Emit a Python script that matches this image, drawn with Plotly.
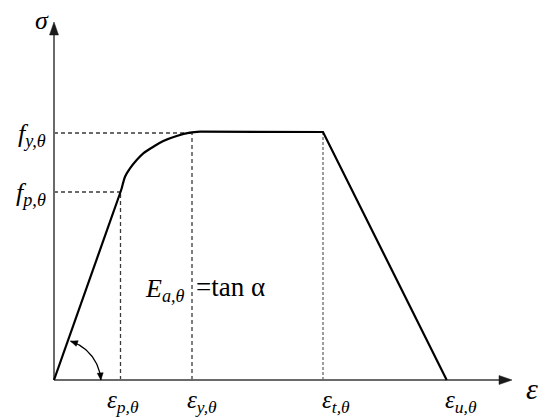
import numpy as np
import plotly.graph_objects as go

# ---- data (arbitrary units) ----
strain_curve = [0.0, 0.665, 0.677, 0.71, 0.76, 0.827, 0.893, 0.993, 1.093, 1.227, 1.36, 1.46, 2.69, 3.927]
stress_curve = [0.0, 1.88, 1.917, 2.033, 2.117, 2.20, 2.267, 2.333, 2.39, 2.44, 2.473, 2.483, 2.48, 0.0]

eps_keys = [0.665, 1.38, 2.69, 3.927]          # ε_p, ε_y, ε_t, ε_u
eps_labels = ["<i>ε</i><sub><i>p,θ</i></sub>", "<i>ε</i><sub><i>y,θ</i></sub>",
              "<i>ε</i><sub><i>t,θ</i></sub>", "<i>ε</i><sub><i>u,θ</i></sub>"]
f_keys = [1.88, 2.47]                             # f_p, f_y
f_labels = ["<i>f</i><sub><i>p,θ</i></sub>", "<i>f</i><sub><i>y,θ</i></sub>"]
eps_axis_end = 4.58
sigma_axis_end = 3.58

FONT = "Liberation Serif"
AX_COL = "#6a6a6a"
DASH_COL = "#3a3a3a"

fig = go.Figure()

# dashed guide lines
gx, gy = [], []
for xe, fv in [(eps_keys[0], f_keys[0]), (eps_keys[1], f_keys[1])]:
    gx += [0, xe, None]
    gy += [fv, fv, None]
for xe, fv in [(eps_keys[0], f_keys[0]), (eps_keys[1], f_keys[1])]:
    gx += [xe, xe, None]
    gy += [0, fv, None]
fig.add_trace(go.Scatter(x=gx, y=gy, mode="lines",
                         line=dict(color=DASH_COL, width=1.3, dash="4px,3px"),
                         hoverinfo="skip", showlegend=False))
fig.add_trace(go.Scatter(x=[eps_keys[2], eps_keys[2]], y=[0, f_keys[1]], mode="lines",
                         line=dict(color=DASH_COL, width=1.0, dash="3px,2px"),
                         hoverinfo="skip", showlegend=False))

# axes lines
fig.add_trace(go.Scatter(x=[0, 0, None, 0, eps_axis_end - 0.08], y=[sigma_axis_end - 0.08, 0, None, 0, 0],
                         mode="lines", line=dict(color=AX_COL, width=2),
                         hoverinfo="skip", showlegend=False))

# main stress-strain curve: straight elastic part, smooth transition, plateau + descending branch
fig.add_trace(go.Scatter(x=strain_curve[:2], y=stress_curve[:2], mode="lines",
                         line=dict(color="black", width=2.2), hoverinfo="skip", showlegend=False))
fig.add_trace(go.Scatter(x=strain_curve[1:12], y=stress_curve[1:12], mode="lines",
                         line=dict(color="black", width=2.2, shape="spline", smoothing=1.0),
                         hoverinfo="skip", showlegend=False))
fig.add_trace(go.Scatter(x=strain_curve[11:], y=stress_curve[11:], mode="lines",
                         line=dict(color="black", width=2.2), hoverinfo="skip", showlegend=False))

# angle arc
cx, cy, r = 0.03, -0.03, 0.44
th = np.radians(np.linspace(72, 4, 60))
ax_ = cx + r * np.cos(th)
ay_ = cy + r * np.sin(th)
fig.add_trace(go.Scatter(x=ax_, y=ay_, mode="lines",
                         line=dict(color="black", width=1.3),
                         hoverinfo="skip", showlegend=False))


def arrowhead(tipx, tipy, dx, dy, length, halfw, color):
    n = np.hypot(dx, dy)
    dx, dy = dx / n, dy / n
    bx, by = -length * dx, -length * dy
    px, py = -dy, dx
    path = (f"M0,0 L{bx + halfw * px:.2f},{by + halfw * py:.2f} "
            f"L{bx - halfw * px:.2f},{by - halfw * py:.2f} Z")
    return dict(type="path", xref="x", yref="y", xsizemode="pixel", ysizemode="pixel",
                xanchor=tipx, yanchor=tipy, path=path,
                fillcolor=color, line=dict(color=color, width=0.5))


shapes = [
    arrowhead(0, sigma_axis_end, 0, 1, 13, 4.5, "#1a1a1a"),
    arrowhead(eps_axis_end, 0, 1, 0, 13, 4.5, "#1a1a1a"),
    arrowhead(ax_[0], ay_[0], ax_[0] - ax_[3], ay_[0] - ay_[3], 7, 3, "black"),
    arrowhead(ax_[-1], ay_[-1], ax_[-1] - ax_[-4], ay_[-1] - ay_[-4], 7, 3, "black"),
]

ann = []
# axis titles
ann.append(dict(x=-0.12, y=3.60, text="<i>σ</i>", showarrow=False,
                font=dict(family=FONT, size=26, color="black"), xanchor="center", yanchor="middle"))
ann.append(dict(x=4.78, y=-0.08, text="<i>ε</i>", showarrow=False,
                font=dict(family=FONT, size=30, color="black"), xanchor="center", yanchor="middle"))

# stress labels
for fv, lab in zip(f_keys, f_labels):
    ann.append(dict(x=-0.06, y=fv, text=lab, showarrow=False, xanchor="right", yanchor="middle",
                    yshift=-2, font=dict(family=FONT, size=26, color="black")))

# strain labels
eps_shift = [2, 10, 13, 14]
for xv, lab, sh in zip(eps_keys, eps_labels, eps_shift):
    ann.append(dict(x=xv, y=-0.21, text=lab, showarrow=False, xanchor="center", yanchor="middle",
                    xshift=sh, font=dict(family=FONT, size=25, color="black")))

# modulus label
ann.append(dict(x=0.89, y=0.90, text="<i>E</i><sub><i>a,θ</i></sub>", showarrow=False,
                xanchor="left", yanchor="middle", font=dict(family=FONT, size=26, color="black")))
ann.append(dict(x=1.40, y=0.90, text="=tan α", showarrow=False,
                xanchor="left", yanchor="middle", yshift=3, font=dict(family=FONT, size=27, color="black")))

# page body has an 8px margin: shift ranges so the drawing lands where the reference has it
fig.update_layout(
    width=550, height=419,
    margin=dict(l=0, r=0, t=0, b=0),
    paper_bgcolor="white", plot_bgcolor="white",
    xaxis=dict(range=[-0.46, 5.04], visible=False, fixedrange=True),
    yaxis=dict(range=[-0.47, 3.72], visible=False, fixedrange=True),
    annotations=ann,
    shapes=shapes,
    showlegend=False,
)

fig.write_html("out.html")
